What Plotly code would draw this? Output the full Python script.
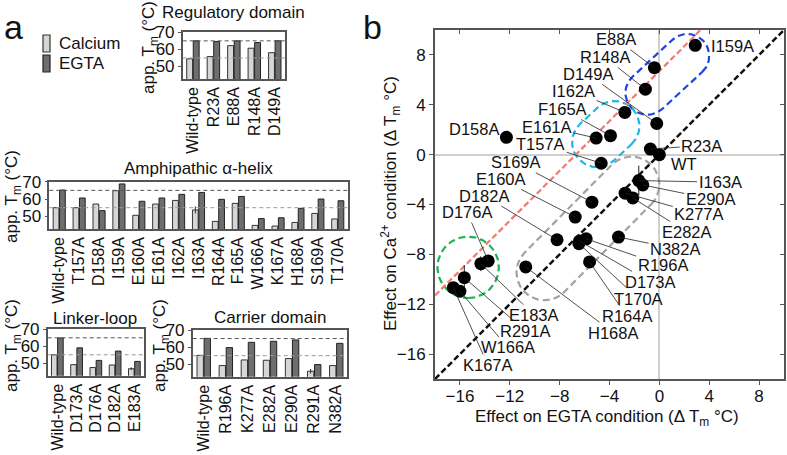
import numpy as np
import plotly.graph_objects as go

W, H = 787, 455
FONT = "Liberation Sans, Arial, sans-serif"

# ---------------- panel a data ----------------
reg_cats = ["Wild-type", "R23A", "E88A", "R148A", "D149A"]
reg_ca = [54.5, 55.8, 62.2, 60.7, 58.1]
reg_egta = [65.0, 64.6, 65.0, 64.0, 65.0]

amph_cats = ["Wild-type", "T157A", "D158A", "I159A", "E160A", "E161A", "I162A", "I163A",
             "R164A", "F165A", "W166A", "K167A", "H168A", "S169A", "T170A"]
amph_ca = [55.0, 55.0, 57.1, 64.8, 50.6, 57.1, 59.2, 53.7, 47.1, 57.5, 44.8, 44.4, 46.5, 51.7, 48.5]
amph_egta = [65.2, 60.6, 53.3, 68.7, 58.7, 60.6, 62.7, 63.8, 59.8, 61.5, 48.7, 49.2, 54.6, 60.0, 59.0]
amph_ca_err = [0, 0, 0, 0, 0, 0, 0, 2.0, 0, 0, 0, 0, 0, 0, 0]

link_cats = ["Wild-type", "D173A", "D176A", "D182A", "E183A"]
link_ca = [55.0, 49.2, 47.5, 49.0, 46.8]
link_egta = [64.9, 59.1, 51.7, 57.2, 51.1]
link_ca_err = [0, 0, 0, 0, 0.8]

carr_cats = ["Wild-type", "R196A", "K277A", "E282A", "E290A", "R291A", "N382A"]
carr_ca = [55.2, 49.2, 52.5, 52.3, 53.3, 45.9, 49.2]
carr_egta = [65.1, 59.7, 62.8, 63.4, 64.2, 49.8, 62.2]
carr_ca_err = [0, 0, 0, 0, 0, 1.3, 0]

wt_ca_ref = 55
wt_egta_ref = 65
bar_ticks = [50, 60, 70]

# ---------------- panel b data ----------------
mutants = ["I159A", "E88A", "R148A", "D149A", "I162A", "F165A", "E161A", "T157A", "D158A",
           "R23A", "WT", "I163A", "E290A", "K277A", "E282A", "S169A", "E160A", "D182A",
           "N382A", "R196A", "D173A", "T170A", "R164A", "H168A", "D176A", "E183A",
           "R291A", "W166A", "K167A"]
d_egta = [2.88, -0.40, -1.12, -0.21, -2.77, -3.92, -5.07, -4.67, -12.27,
          -0.72, 0.0, -1.65, -1.33, -2.75, -2.13, -5.41, -6.75, -8.21,
          -3.28, -5.87, -6.40, -6.45, -5.60, -10.72, -13.73, -14.32,
          -15.65, -16.00, -16.53]
d_ca = [8.77, 6.98, 5.25, 2.50, 3.39, 1.52, 1.33, -0.69, 1.39,
        0.45, 0.0, -2.08, -2.43, -3.09, -3.47, -3.81, -5.01, -6.83,
        -6.61, -6.75, -6.93, -7.15, -8.61, -9.01, -8.53, -8.75,
        -9.87, -10.96, -10.67]
d_ca_err = [0, 0, 0, 0, 0, 0, 0, 0, 0, 0, 0, 1.2, 0, 0, 0, 0, 0, 0,
            0, 0, 0, 0, 0, 0, 0, 0.6, 1.0, 0, 0]
b_ticks = [-16, -12, -8, -4, 0, 4, 8]
b_range = [-18, 10]
fit_offset = 6.7

# label layout (text centres, data units); flag -> draw leader line
label_pos = {
    "I159A": (5.86, 8.72, False), "E88A": (-3.46, 9.26, True), "R148A": (-4.4, 7.84, True),
    "D149A": (-5.76, 6.48, True), "I162A": (-6.88, 5.12, True), "F165A": (-7.8, 3.66, True),
    "E161A": (-9.04, 2.24, True), "T157A": (-9.52, 0.86, True), "D158A": (-14.88, 2.06, False),
    "R23A": (3.4, 0.72, True), "WT": (2.0, -0.74, False), "I163A": (4.87, -2.21, True),
    "E290A": (4.13, -3.55, True), "K277A": (3.2, -4.75, True), "E282A": (2.2, -6.21, True),
    "N382A": (1.27, -7.55, True), "R196A": (0.27, -8.88, True), "D173A": (-0.73, -10.21, True),
    "T170A": (-1.68, -11.55, True), "R164A": (-2.6, -12.96, True), "H168A": (-3.68, -14.29, True),
    "E183A": (-10.03, -12.88, True), "R291A": (-10.76, -14.13, True), "W166A": (-12.16, -15.47, True),
    "K167A": (-13.76, -16.88, True), "S169A": (-11.53, -0.61, True), "E160A": (-12.73, -1.95, True),
    "D182A": (-14.07, -3.28, True), "D176A": (-15.43, -4.61, True),
}

# group outlines (stadiums): (p1, p2, radius, colour)
groups = [
    ((-0.96, 4.96), (2.24, 7.92), 1.76, "#1f45e0"),
    ((-5.0, 1.0), (-3.6, 2.3), 2.0, "#1fb6e8"),
    ((-9.22, -9.44), (-2.24, -2.4), 2.24, "#a3a3a3"),
    ((-15.34, -9.04), (-15.34, -9.04), 2.46, "#1fb255"),
]


def px(x):
    return x / W


def py(y):
    return 1 - y / H


def stadium(p1, p2, r, n=60):
    p1 = np.array(p1, float)
    p2 = np.array(p2, float)
    d = p2 - p1
    th = np.arctan2(d[1], d[0]) if np.hypot(*d) > 0 else 0.0
    a1 = np.linspace(th - np.pi / 2, th + np.pi / 2, n)
    a2 = np.linspace(th + np.pi / 2, th + 3 * np.pi / 2, n)
    xs = np.concatenate([p2[0] + r * np.cos(a1), p1[0] + r * np.cos(a2), [p2[0] + r * np.cos(a1[0])]])
    ys = np.concatenate([p2[1] + r * np.sin(a1), p1[1] + r * np.sin(a2), [p2[1] + r * np.sin(a1[0])]])
    return xs, ys


fig = go.Figure()

CA_COL = "#d6d6d6"
EG_COL = "#6e6e6e"
OUT = "#333333"

bar_sets = [
    (reg_cats, reg_ca, reg_egta, None, "", (182.7, 285), (32.3, 79)),
    (amph_cats, amph_ca, amph_egta, amph_ca_err, "2", (49.3, 347.7), (181.7, 229)),
    (link_cats, link_ca, link_egta, link_ca_err, "3", (47.7, 144), (329.3, 375.7)),
    (carr_cats, carr_ca, carr_egta, carr_ca_err, "4", (192.7, 347.3), (330, 376.7)),
]

layout_axes = {}
shapes = []
for cats, ca, eg, err, n, (x0, x1), (y0, y1) in bar_sets:
    xa, ya = "x" + n, "y" + n
    fig.add_trace(go.Bar(x=cats, y=ca, xaxis=xa, yaxis=ya, marker=dict(color=CA_COL, line=dict(color=OUT, width=1)),
                         error_y=dict(type="data", array=err, color="#333", thickness=1, width=0, visible=err is not None),
                         showlegend=False))
    fig.add_trace(go.Bar(x=cats, y=eg, xaxis=xa, yaxis=ya, marker=dict(color=EG_COL, line=dict(color="#222", width=1)),
                         showlegend=False))
    layout_axes["xaxis" + n] = dict(domain=[px(x0), px(x1)], anchor=ya, showline=True, mirror=True,
                                    linecolor="#555", linewidth=1.5, ticks="", tickangle=-90, automargin=False,
                                    tickfont=dict(size=16, color="#111"), showgrid=False, fixedrange=True)
    layout_axes["yaxis" + n] = dict(domain=[py(y1), py(y0)], anchor=xa, range=[42.7, 70], tickvals=bar_ticks,
                                    ticks="outside", ticklen=3, tickcolor="#555", showline=True, mirror=True,
                                    linecolor="#555", linewidth=1.5, showgrid=False, zeroline=False,
                                    automargin=False, tickfont=dict(size=17, color="#111"), fixedrange=True)
    for ref, col in ((wt_egta_ref, "#555555"), (wt_ca_ref, "#999999")):
        shapes.append(dict(type="line", xref=xa + " domain", yref=ya, x0=0, x1=1, y0=ref, y1=ref,
                           line=dict(color=col, width=1, dash="4px,3px"), layer="above"))

# panel b
for (p1, p2, r, col) in groups:
    xs, ys = stadium(p1, p2, r)
    fig.add_trace(go.Scatter(x=xs, y=ys, mode="lines", xaxis="x5", yaxis="y5",
                             line=dict(color=col, width=2.2, dash="7px,4px"), showlegend=False, hoverinfo="skip"))

fig.add_trace(go.Scatter(x=b_range, y=[b_range[0] + fit_offset, b_range[1] + fit_offset], mode="lines",
                         xaxis="x5", yaxis="y5", line=dict(color="#f27a72", width=2.2, dash="6px,3px"),
                         showlegend=False))
fig.add_trace(go.Scatter(x=b_range, y=b_range, mode="lines", xaxis="x5", yaxis="y5",
                         line=dict(color="#111", width=2.5, dash="6px,3px"), showlegend=False))
fig.add_trace(go.Scatter(x=d_egta, y=d_ca, mode="markers", xaxis="x5", yaxis="y5",
                         marker=dict(color="black", size=13),
                         error_y=dict(type="data", array=d_ca_err, color="#222", thickness=1, width=0),
                         showlegend=False))
fig.add_trace(go.Scatter(x=[None], y=[None], xaxis="x6", yaxis="y6", showlegend=False))

bx0, bx1, by0, by1 = 435, 784, 30, 379
common_b = dict(range=b_range, tickvals=b_ticks, ticklen=4, tickcolor="#555", showgrid=False,
                automargin=False, fixedrange=True)
layout_axes["xaxis5"] = dict(domain=[px(bx0), px(bx1)], anchor="y5", ticks="outside", showline=True, mirror=True,
                             linecolor="#555", linewidth=1.8, zeroline=True, zerolinecolor="#cfcfcf",
                             zerolinewidth=1.5, tickfont=dict(size=17, color="#111"), ticklabelstandoff=-3,
                             **common_b)
layout_axes["yaxis5"] = dict(domain=[py(by1), py(by0)], anchor="x5", ticks="outside", showline=True, mirror=True,
                             linecolor="#555", linewidth=1.8, zeroline=True, zerolinecolor="#cfcfcf",
                             zerolinewidth=1.5, tickfont=dict(size=17, color="#111"), **common_b)
layout_axes["xaxis6"] = dict(overlaying="x5", side="top", anchor="y5", ticks="inside", showticklabels=False,
                             showline=False, zeroline=False, **common_b)
layout_axes["yaxis6"] = dict(overlaying="y5", side="right", anchor="x5", ticks="inside", showticklabels=False,
                             showline=False, zeroline=False, **common_b)

annotations = []
for m, ex, ey in zip(mutants, d_egta, d_ca):
    lx, ly, line = label_pos[m]
    if line:
        annotations.append(dict(x=ex, y=ey, xref="x5", yref="y5", ax=lx, ay=ly, axref="x5", ayref="y5",
                                text=m, showarrow=True, arrowhead=0, arrowwidth=0.8, arrowcolor="#222",
                                standoff=0, startstandoff=0, font=dict(size=16.5, color="#111")))
    else:
        annotations.append(dict(x=lx, y=ly, xref="x5", yref="y5", text=m, showarrow=False,
                                font=dict(size=16.5, color="#111")))


def txt(x, y, s, size=17, angle=0, xanchor="center", yanchor="middle"):
    annotations.append(dict(x=px(x), y=py(y), xref="paper", yref="paper", text=s, showarrow=False,
                            textangle=angle, xanchor=xanchor, yanchor=yanchor,
                            font=dict(size=size, color="#111")))


ytitle = "app. T<sub>m</sub> (°C)"
txt(150, 48, ytitle, angle=-90)
txt(13, 197, ytitle, angle=-90)
txt(13, 346, ytitle, angle=-90)
txt(161, 346, ytitle, angle=-90)
txt(233, 12, "Regulatory domain")
txt(198, 168, "Amphipathic α-helix")
txt(95, 318, "Linker-loop")
txt(270, 317, "Carrier domain")
txt(57, 43.5, "Calcium", xanchor="left")
txt(57, 63.5, "EGTA", xanchor="left")
txt(13, 27, "a", size=34)
txt(372, 27, "b", size=34)
txt(607, 418, "Effect on EGTA condition (Δ T<sub>m</sub> °C)")
txt(391, 204, "Effect on Ca<sup>2+</sup> condition (Δ T<sub>m</sub> °C)", angle=-90)

shapes.append(dict(type="rect", xref="paper", yref="paper", x0=px(43), x1=px(50), y0=py(52), y1=py(35),
                   fillcolor=CA_COL, line=dict(color=OUT, width=1.2)))
shapes.append(dict(type="rect", xref="paper", yref="paper", x0=px(43), x1=px(50), y0=py(72), y1=py(55),
                   fillcolor=EG_COL, line=dict(color="#222", width=1.2)))

fig.update_layout(width=W, height=H, margin=dict(l=0, r=0, t=0, b=0, autoexpand=False), paper_bgcolor="white",
                  plot_bgcolor="white", barmode="group", bargap=0.36, bargroupgap=0.1,
                  font=dict(family=FONT, color="#111"), showlegend=False,
                  annotations=annotations, shapes=shapes, **layout_axes)

fig.write_html("out.html", config={"displayModeBar": False},
               post_script="document.body.style.margin='0';document.body.style.padding='0';")
